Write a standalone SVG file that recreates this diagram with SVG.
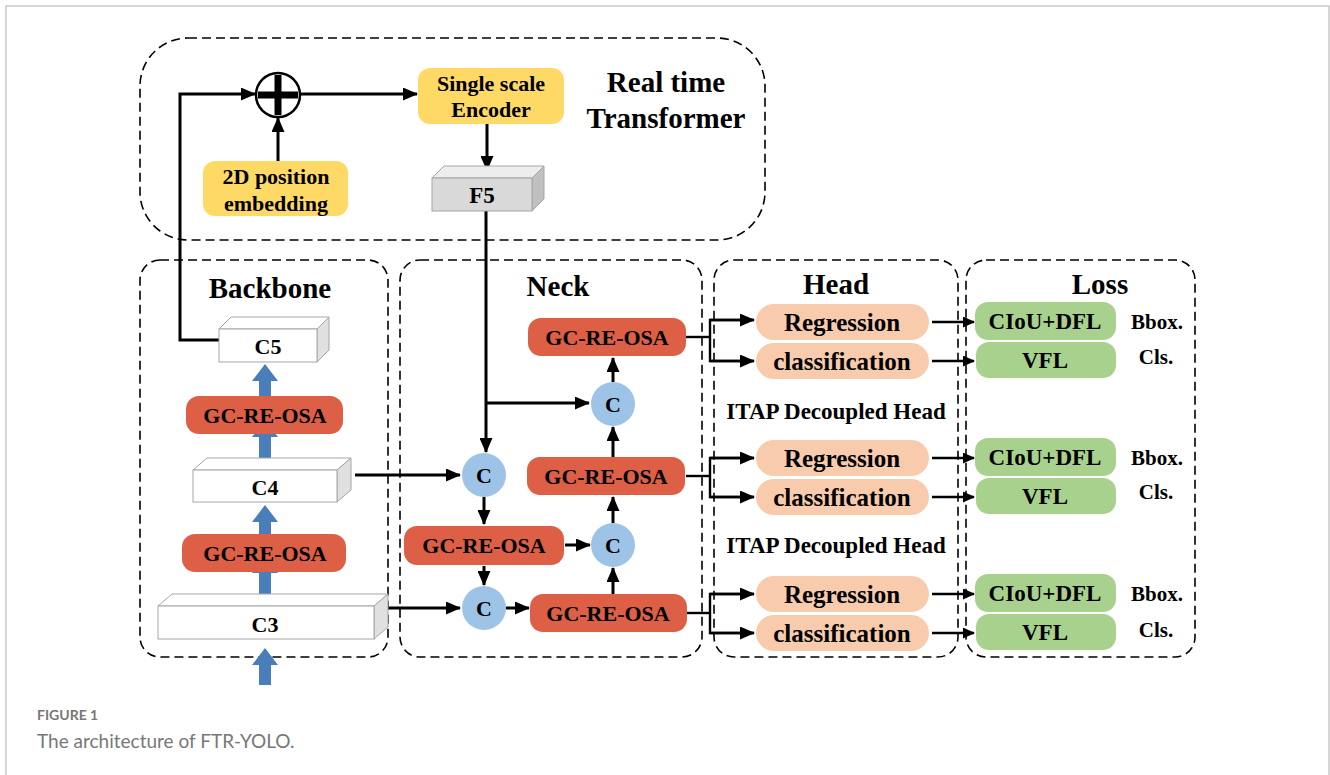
<svg xmlns="http://www.w3.org/2000/svg" width="1330" height="775" viewBox="0 0 1330 775">
<defs>
<marker id="ah" markerUnits="userSpaceOnUse" markerWidth="15" markerHeight="13" refX="14" refY="6.5" orient="auto">
<path d="M0,0 L15,6.5 L0,13 z" fill="#000"/>
</marker>
<marker id="ahs" markerUnits="userSpaceOnUse" markerWidth="12" markerHeight="11" refX="11" refY="5.5" orient="auto">
<path d="M0,0 L12,5.5 L0,11 z" fill="#000"/>
</marker>
</defs>
<style>
.t{font-family:"Liberation Serif","Times New Roman",serif;font-weight:bold;fill:#000;text-anchor:middle;dominant-baseline:central}
.title{font-size:29px}
.gc{fill:#DD5F45}
.gct{font-size:22px}
.yel{fill:#FFD966}
.peach{fill:#F8CBAD}
.green{fill:#A9D18E}
.circ{fill:#9DC3E6}
.dash{fill:none;stroke:#000;stroke-width:1.6;stroke-dasharray:9 5}
.ln{fill:none;stroke:#000;stroke-width:3}
.lns{fill:none;stroke:#000;stroke-width:2.4}
.blue{fill:#4A7EBB}
.face{stroke:#A6A6A6;stroke-width:1}
.cap{font-family:Lato,"Open Sans",sans-serif;fill:#777}
</style>
<rect width="1330" height="775" fill="#fff"/>
<path d="M6,775 V6 H1329 V775" fill="none" stroke="#C8C8C8" stroke-width="1.5"/>

<!-- dashed containers -->
<g id="transformer-box">
<rect class="dash" x="140" y="38" width="625" height="202" rx="48"/>
<text class="t title" x="666" y="82">Real time</text>
<text class="t title" x="666" y="118">Transformer</text>
</g>
<g id="backbone-box">
<rect class="dash" x="140" y="260" width="248" height="397" rx="20"/>
<text class="t title" x="270" y="288">Backbone</text>
</g>
<g id="neck-box">
<rect class="dash" x="400" y="260" width="302" height="397" rx="20"/>
<text class="t title" x="558" y="286">Neck</text>
</g>
<g id="head-box">
<rect class="dash" x="714" y="260" width="244" height="397" rx="20"/>
<text class="t title" x="836" y="284">Head</text>
</g>
<g id="loss-box">
<rect class="dash" x="966" y="260" width="229" height="397" rx="20"/>
<text class="t title" x="1100" y="284">Loss</text>
</g>

<!-- connectors -->
<g id="connectors">
<polygon class="blue" points="265,364 278,381 271,381 271,398 259,398 259,381 252,381"/>
<polygon class="blue" points="265,420 278,437 271,437 271,460 259,460 259,437 252,437"/>
<polygon class="blue" points="265,505 278,522 271,522 271,536 259,536 259,522 252,522"/>
<polygon class="blue" points="265,556 278,573 271,573 271,598 259,598 259,573 252,573"/>
<polygon class="blue" points="265,648 278,665 271,665 271,685 259,685 259,665 252,665"/>
<polyline class="ln" points="219,340 180,340 180,94 255,94" marker-end="url(#ah)"/>
<line class="ln" x1="278" y1="161" x2="278" y2="118" marker-end="url(#ah)"/>
<line class="ln" x1="301" y1="94" x2="417" y2="94" marker-end="url(#ah)"/>
<line class="ln" x1="487" y1="124" x2="487" y2="170" marker-end="url(#ah)"/>
<line class="ln" x1="486" y1="211" x2="486" y2="452" marker-end="url(#ah)"/>
<line class="ln" x1="485" y1="403" x2="589" y2="403" marker-end="url(#ah)"/>
<line class="ln" x1="355" y1="475" x2="460" y2="475" marker-end="url(#ah)"/>
<line class="ln" x1="375" y1="608" x2="460" y2="608" marker-end="url(#ah)"/>
<line class="ln" x1="484" y1="497" x2="484" y2="524" marker-end="url(#ah)"/>
<line class="ln" x1="484" y1="566" x2="484" y2="585" marker-end="url(#ah)"/>
<line class="ln" x1="565" y1="545" x2="590" y2="545" marker-end="url(#ah)"/>
<line class="ln" x1="506" y1="608" x2="529" y2="608" marker-end="url(#ah)"/>
<line class="ln" x1="613" y1="594" x2="613" y2="568" marker-end="url(#ah)"/>
<line class="ln" x1="613" y1="523" x2="613" y2="497" marker-end="url(#ah)"/>
<line class="ln" x1="613" y1="457" x2="613" y2="427" marker-end="url(#ah)"/>
<line class="ln" x1="613" y1="382" x2="613" y2="358" marker-end="url(#ah)"/>
<line class="lns" x1="686" y1="337" x2="710" y2="337"/>
<polyline class="lns" points="754,320 710,320 710,361 754,361"/>
<line class="lns" x1="686" y1="476" x2="710" y2="476"/>
<polyline class="lns" points="754,458 710,458 710,497 754,497"/>
<line class="lns" x1="686" y1="613" x2="710" y2="613"/>
<polyline class="lns" points="754,594 710,594 710,633 754,633"/>
<line class="lns" x1="710" y1="320" x2="754" y2="320" marker-end="url(#ah)"/>
<line class="lns" x1="710" y1="361" x2="754" y2="361" marker-end="url(#ah)"/>
<line class="lns" x1="710" y1="458" x2="754" y2="458" marker-end="url(#ah)"/>
<line class="lns" x1="710" y1="497" x2="754" y2="497" marker-end="url(#ah)"/>
<line class="lns" x1="710" y1="594" x2="754" y2="594" marker-end="url(#ah)"/>
<line class="lns" x1="710" y1="633" x2="754" y2="633" marker-end="url(#ah)"/>
<line class="lns" x1="932" y1="322" x2="974" y2="322" marker-end="url(#ahs)"/>
<line class="lns" x1="932" y1="361" x2="974" y2="361" marker-end="url(#ahs)"/>
<line class="lns" x1="932" y1="458" x2="974" y2="458" marker-end="url(#ahs)"/>
<line class="lns" x1="932" y1="497" x2="974" y2="497" marker-end="url(#ahs)"/>
<line class="lns" x1="932" y1="594" x2="974" y2="594" marker-end="url(#ahs)"/>
<line class="lns" x1="932" y1="633" x2="974" y2="633" marker-end="url(#ahs)"/>
</g>

<g id="plus">
<circle cx="278" cy="95" r="22" fill="#fff" stroke="#000" stroke-width="2.5"/>
<line x1="258" y1="95" x2="298" y2="95" stroke="#000" stroke-width="7"/>
<line x1="278" y1="75" x2="278" y2="115" stroke="#000" stroke-width="7"/>
</g>
<g id="encoder">
<rect class="yel" x="418" y="68" width="146" height="56" rx="12"/>
<text class="t" x="491" y="83" font-size="22">Single scale</text>
<text class="t" x="491" y="109" font-size="22">Encoder</text>
</g>
<g id="embedding">
<rect class="yel" x="203" y="161" width="145" height="55" rx="12"/>
<text class="t" x="276" y="176" font-size="22">2D position</text>
<text class="t" x="276" y="203" font-size="22">embedding</text>
</g>
<g id="F5">
<polygon class="face" points="432,178 444,166 544,166 532,178" fill="#EDEDED"/>
<polygon class="face" points="532,178 544,166 544,199 532,211" fill="#C0C0C0"/>
<rect class="face" x="432" y="178" width="100" height="33" fill="#D9D9D9"/>
<text class="t" x="482" y="195" font-size="23">F5</text>
</g>

<g id="C5">
<polygon class="face" points="219,329 231,317 329,317 317,329" fill="#fff"/>
<polygon class="face" points="317,329 329,317 329,350 317,362" fill="#E0E0E0"/>
<rect class="face" x="219" y="329" width="98" height="33" fill="#fff"/>
<text class="t" x="268" y="346" font-size="22">C5</text>
</g>
<g id="bb-gc1">
<rect class="gc" x="186" y="396" width="157" height="38" rx="13"/>
<text class="t gct" x="265" y="415">GC-RE-OSA</text>
</g>
<g id="C4">
<polygon class="face" points="193,470 207,458 351,458 337,470" fill="#fff"/>
<polygon class="face" points="337,470 351,458 351,490 337,502" fill="#E0E0E0"/>
<rect class="face" x="193" y="470" width="144" height="32" fill="#fff"/>
<text class="t" x="265" y="487" font-size="22">C4</text>
</g>
<g id="bb-gc2">
<rect class="gc" x="182" y="534" width="164" height="38" rx="13"/>
<text class="t gct" x="265" y="553">GC-RE-OSA</text>
</g>
<g id="C3">
<polygon class="face" points="158,606 172,594 388,594 374,606" fill="#fff"/>
<polygon class="face" points="374,606 388,594 388,627 374,639" fill="#E0E0E0"/>
<rect class="face" x="158" y="606" width="216" height="33" fill="#fff"/>
<text class="t" x="265" y="624" font-size="22">C3</text>
</g>

<g id="neck-gc-top">
<rect class="gc" x="528" y="318" width="158" height="38" rx="13"/>
<text class="t gct" x="607" y="337">GC-RE-OSA</text>
</g>
<g id="neck-c-top">
<circle class="circ" cx="613" cy="404" r="22"/>
<text class="t" x="613" y="404" font-size="22">C</text>
</g>
<g id="neck-gc-mid">
<rect class="gc" x="527" y="457" width="158" height="38" rx="13"/>
<text class="t gct" x="606" y="476">GC-RE-OSA</text>
</g>
<g id="neck-c-left">
<circle class="circ" cx="484" cy="475" r="22"/>
<text class="t" x="484" y="475" font-size="22">C</text>
</g>
<g id="neck-gc-left">
<rect class="gc" x="404" y="526" width="160" height="39" rx="13"/>
<text class="t gct" x="484" y="545">GC-RE-OSA</text>
</g>
<g id="neck-c-mid">
<circle class="circ" cx="613" cy="545" r="22"/>
<text class="t" x="613" y="545" font-size="22">C</text>
</g>
<g id="neck-c-bottom">
<circle class="circ" cx="484" cy="608" r="22"/>
<text class="t" x="484" y="608" font-size="22">C</text>
</g>
<g id="neck-gc-bottom">
<rect class="gc" x="530" y="594" width="157" height="38" rx="13"/>
<text class="t gct" x="608" y="613">GC-RE-OSA</text>
</g>

<g id="reg1"><rect class="peach" x="756" y="304" width="173" height="36" rx="18"/><text class="t" x="842" y="322" font-size="25">Regression</text></g>
<g id="cls1"><rect class="peach" x="756" y="343" width="173" height="36" rx="18"/><text class="t" x="842" y="361" font-size="25">classification</text></g>
<g id="itap1"><text class="t" x="836" y="411" font-size="23">ITAP Decoupled Head</text></g>
<g id="reg2"><rect class="peach" x="756" y="440" width="173" height="36" rx="18"/><text class="t" x="842" y="458" font-size="25">Regression</text></g>
<g id="cls2"><rect class="peach" x="756" y="479" width="173" height="36" rx="18"/><text class="t" x="842" y="497" font-size="25">classification</text></g>
<g id="itap2"><text class="t" x="836" y="545" font-size="23">ITAP Decoupled Head</text></g>
<g id="reg3"><rect class="peach" x="756" y="576" width="173" height="36" rx="18"/><text class="t" x="842" y="594" font-size="25">Regression</text></g>
<g id="cls3"><rect class="peach" x="756" y="615" width="173" height="36" rx="18"/><text class="t" x="842" y="633" font-size="25">classification</text></g>

<g id="ciou1"><rect class="green" x="975" y="302" width="141" height="38" rx="13"/><text class="t" x="1045" y="321" font-size="23">CIoU+DFL</text></g>
<g id="vfl1"><rect class="green" x="976" y="342" width="140" height="36" rx="13"/><text class="t" x="1045" y="360" font-size="23">VFL</text></g>
<g id="ciou2"><rect class="green" x="975" y="438" width="141" height="38" rx="13"/><text class="t" x="1045" y="457" font-size="23">CIoU+DFL</text></g>
<g id="vfl2"><rect class="green" x="976" y="478" width="140" height="36" rx="13"/><text class="t" x="1045" y="496" font-size="23">VFL</text></g>
<g id="ciou3"><rect class="green" x="975" y="574" width="141" height="38" rx="13"/><text class="t" x="1045" y="593" font-size="23">CIoU+DFL</text></g>
<g id="vfl3"><rect class="green" x="976" y="614" width="140" height="36" rx="13"/><text class="t" x="1045" y="632" font-size="23">VFL</text></g>
<g id="loss-labels">
<text class="t" x="1157" y="322" font-size="21">Bbox.</text>
<text class="t" x="1156" y="357" font-size="21">Cls.</text>
<text class="t" x="1157" y="458" font-size="21">Bbox.</text>
<text class="t" x="1156" y="492" font-size="21">Cls.</text>
<text class="t" x="1157" y="594" font-size="21">Bbox.</text>
<text class="t" x="1156" y="630" font-size="21">Cls.</text>
</g>

<g id="caption">
<text class="cap" x="37" y="720" font-size="14" font-weight="bold">FIGURE 1</text>
<text class="cap" x="37" y="748" font-size="19">The architecture of FTR-YOLO.</text>
</g>
</svg>
